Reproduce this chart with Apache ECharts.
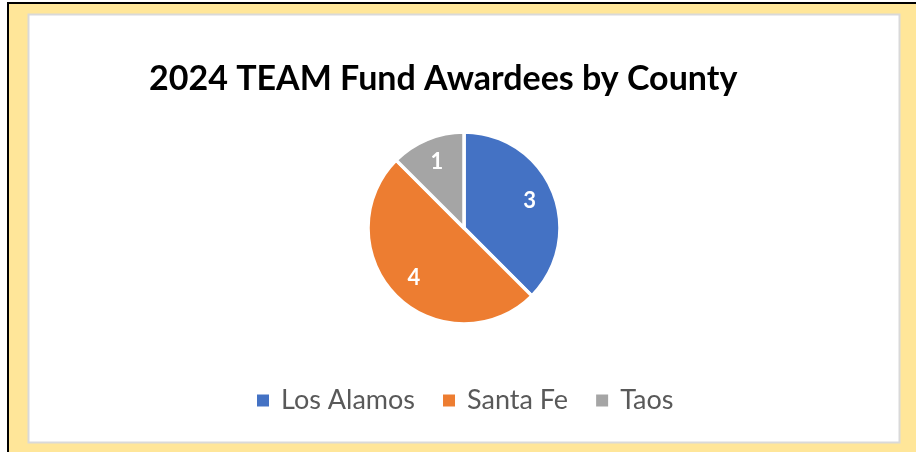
<!DOCTYPE html>
<html><head><meta charset="utf-8">
<script src="https://cdn.jsdelivr.net/npm/echarts@6/dist/echarts.min.js"></script>
<style>html,body{margin:0;padding:0;background:#fff;}#c{width:916px;height:452px;}</style>
</head><body><div id="c"></div>
<script>
const title = '2024 TEAM Fund Awardees by County';
const counties = ['Los Alamos', 'Santa Fe', 'Taos'];
const awardees = [3, 4, 1];
const colors = ['#4472C4', '#ED7D31', '#A5A5A5'];

const chart = echarts.init(document.getElementById('c'), null, {renderer: 'canvas'});
const data = counties.map((n, i) => ({name: n, value: awardees[i], itemStyle: {color: colors[i]}}));
chart.setOption({
  animation: false,
  backgroundColor: '#ffffff',
  graphic: [
    {type: 'rect', shape: {x: 7, y: 2, width: 920, height: 460}, style: {fill: '#000'}, z: -10},
    {type: 'rect', shape: {x: 9, y: 4, width: 920, height: 460}, style: {fill: '#FFE699'}, z: -9},
    {type: 'rect', shape: {x: 28.5, y: 14.5, width: 871, height: 428}, style: {fill: '#fff', stroke: '#D9D9D9', lineWidth: 2}, z: -8}
  ],
  title: {
    text: title, left: 144, top: 57,
    textStyle: {fontFamily: 'Lato', fontWeight: 'bold', fontSize: 34, color: '#000'}
  },
  legend: {
    data: counties, top: 382, left: 250, icon: 'rect',
    itemWidth: 14, itemHeight: 14, itemGap: 26,
    textStyle: {fontFamily: 'Lato', fontSize: 27, color: '#595959', padding: [0, 0, 0, 6]}
  },
  series: [{
    type: 'pie', center: [464, 228], radius: 96, startAngle: 90, clockwise: true,
    itemStyle: {borderColor: '#fff', borderWidth: 3.5},
    label: {show: false}, labelLine: {show: false}, emphasis: {disabled: true},
    data: data
  }, {
    type: 'pie', center: [464, 228], radius: [40, 96], startAngle: 90, clockwise: true, silent: true,
    itemStyle: {color: 'rgba(0,0,0,0)'},
    label: {show: true, position: 'inside', formatter: '{c}', color: '#fff', fontFamily: 'Lato', fontWeight: 'bold', fontSize: 22},
    labelLine: {show: false}, emphasis: {disabled: true},
    data: counties.map((n, i) => ({name: n, value: awardees[i]}))
  }]
});
</script></body></html>
